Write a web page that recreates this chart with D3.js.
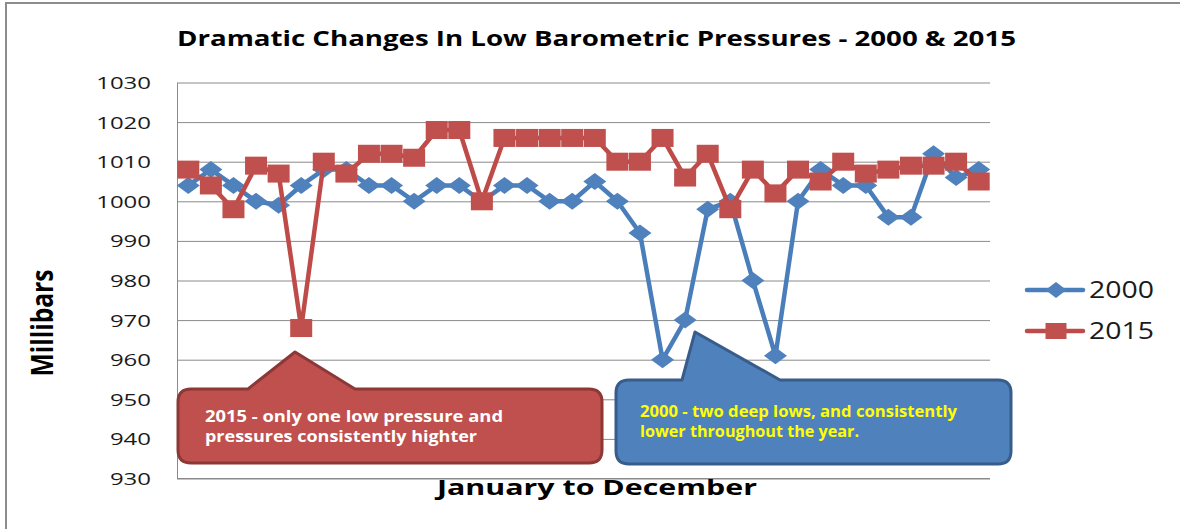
<!DOCTYPE html>
<html>
<head>
<meta charset="utf-8">
<script src="https://cdn.jsdelivr.net/npm/d3@7"></script>
<style>
  html, body { margin: 0; padding: 0; background: #fff; }
  svg { display: block; }
  text { font-family: "Open Sans", "DejaVu Sans", sans-serif; }
</style>
</head>
<body>
<div id="chart"></div>
<script>
// ---- data ----
const periods = [
  "Jan 1","Jan 2","Jan 3","Feb 1","Feb 2","Feb 3","Mar 1","Mar 2","Mar 3",
  "Apr 1","Apr 2","Apr 3","May 1","May 2","May 3","Jun 1","Jun 2","Jun 3",
  "Jul 1","Jul 2","Jul 3","Aug 1","Aug 2","Aug 3","Sep 1","Sep 2","Sep 3",
  "Oct 1","Oct 2","Oct 3","Nov 1","Nov 2","Nov 3","Dec 1","Dec 2","Dec 3"
];
const pressure2000 = [
  1004,1008,1004,1000,999,1004,1008,1008,1004,
  1004,1000,1004,1004,1000,1004,1004,1000,1000,
  1005,1000,992,960,970,998,1000,980,961,
  1000,1008,1004,1004,996,996,1012,1006,1008
];
const pressure2015 = [
  1008,1004,998,1009,1007,968,1010,1007,1012,
  1012,1011,1018,1018,1000,1016,1016,1016,1016,
  1016,1010,1010,1016,1006,1012,998,1008,1002,
  1008,1005,1010,1007,1008,1009,1009,1010,1005
];
const seriesNames = ["2000", "2015"];
const yTicks = [930, 940, 950, 960, 970, 980, 990, 1000, 1010, 1020, 1030];
const titleText = "Dramatic Changes In Low Barometric Pressures - 2000 & 2015";
const xTitle = "January to December";
const yTitle = "Millibars";
const note2015 = ["2015 - only one low pressure and", "pressures consistently highter"];
const note2000 = ["2000 - two deep lows, and consistently", "lower throughout the year."];

// ---- layout / style ----
const W = 1180, H = 529;
const plot = { left: 177, right: 990, top: 82.5, bottom: 478.5 };
const colors = {
  line2000: "#4A7EBB", fill2000: "#4F81BD",
  line2015: "#BE4B48", fill2015: "#C0504D",
  grid: "#8A8A8A"
};

const svg = d3.select("#chart").append("svg")
  .attr("width", W).attr("height", H);

// outer chart frame (left and top edges visible)
svg.append("path")
  .attr("d", `M6,${H} V3 H${W}`)
  .attr("fill", "none").attr("stroke", "#8C8C8C").attr("stroke-width", 2);

const x = d3.scalePoint().domain(periods).range([plot.left, plot.right]).padding(0.5);
const y = d3.scaleLinear().domain([930, 1030]).range([plot.bottom, plot.top]);

// y axis with gridlines
const yAxis = d3.axisLeft(y).tickValues(yTicks).tickFormat(d3.format("d"))
  .tickSize(-(plot.right - plot.left)).tickSizeOuter(0).tickPadding(26);
const gy = svg.append("g").attr("transform", `translate(${plot.left},0)`).call(yAxis);
gy.select(".domain").attr("stroke", colors.grid).attr("stroke-width", 1);
gy.selectAll(".tick line").attr("stroke", colors.grid).attr("stroke-width", 1);
gy.selectAll(".tick text")
  .attr("dy", "6")
  .attr("fill", "#1a1a1a")
  .style("font-size", "17px")
  .attr("lengthAdjust", "spacingAndGlyphs")
  .attr("textLength", d => String(d).length * 13.7);

// bottom axis line
svg.append("line")
  .attr("x1", plot.left).attr("x2", plot.right)
  .attr("y1", y(930)).attr("y2", y(930))
  .attr("stroke", colors.grid).attr("stroke-width", 1);

// markers
function diamond(sel, w, h) {
  return sel.attr("d", `M0,${-h/2} L${w/2},0 L0,${h/2} L${-w/2},0 Z`);
}

const line = d3.line().x((d, i) => x(periods[i])).y(d => y(d));

// series 2000
const g2000 = svg.append("g");
g2000.append("path").datum(pressure2000)
  .attr("d", line).attr("fill", "none")
  .attr("stroke", colors.line2000).attr("stroke-width", 4.5)
  .attr("stroke-linejoin", "round");
g2000.selectAll("path.m").data(pressure2000).join("path").attr("class", "m")
  .call(diamond, 23, 17)
  .attr("transform", (d, i) => `translate(${x(periods[i])},${y(d)})`)
  .attr("fill", colors.fill2000);

// series 2015
const g2015 = svg.append("g");
g2015.append("path").datum(pressure2015)
  .attr("d", line).attr("fill", "none")
  .attr("stroke", colors.line2015).attr("stroke-width", 4.5)
  .attr("stroke-linejoin", "round");
g2015.selectAll("rect.m").data(pressure2015).join("rect").attr("class", "m")
  .attr("x", (d, i) => x(periods[i]) - 11).attr("y", d => y(d) - 9)
  .attr("width", 22).attr("height", 18)
  .attr("fill", colors.fill2015);

// title
svg.append("text").attr("x", 177).attr("y", 46)
  .text(titleText)
  .style("font-size", "22px").style("font-weight", "bold").attr("fill", "#000")
  .attr("lengthAdjust", "spacingAndGlyphs").attr("textLength", 839);

// x axis title
svg.append("text").attr("x", 437).attr("y", 495)
  .text(xTitle)
  .style("font-size", "22px").style("font-weight", "bold").attr("fill", "#000")
  .attr("lengthAdjust", "spacingAndGlyphs").attr("textLength", 320);

// y axis title (rotated, widened like the reference)
svg.append("text")
  .attr("transform", "translate(53,323) scale(1.3,1) rotate(-90)")
  .attr("text-anchor", "middle")
  .text(yTitle)
  .style("font-size", "23px").style("font-weight", "bold").attr("fill", "#000")
  .attr("lengthAdjust", "spacingAndGlyphs").attr("textLength", 107);

// legend
const legend = svg.append("g");
const legY = [290, 331];
seriesNames.forEach((name, i) => {
  const gy0 = legY[i];
  const lc = i === 0 ? colors.line2000 : colors.line2015;
  const fc = i === 0 ? colors.fill2000 : colors.fill2015;
  legend.append("line").attr("x1", 1027).attr("x2", 1083)
    .attr("y1", gy0).attr("y2", gy0)
    .attr("stroke", lc).attr("stroke-width", 4.5).attr("stroke-linecap", "round");
  if (i === 0) {
    legend.append("path").call(diamond, 21, 16)
      .attr("transform", `translate(1056,${gy0})`).attr("fill", fc);
  } else {
    legend.append("rect").attr("x", 1056 - 10.5).attr("y", gy0 - 8)
      .attr("width", 21).attr("height", 16).attr("fill", fc);
  }
  legend.append("text").attr("x", 1089).attr("y", gy0 + 8)
    .text(name).style("font-size", "23px").attr("fill", "#1a1a1a")
    .attr("lengthAdjust", "spacingAndGlyphs").attr("textLength", 65);
});

// callouts
function calloutPath(c) {
  const r = c.r;
  return `M${c.x0 + r},${c.y0} L${c.bx0},${c.y0} L${c.ax},${c.ay} L${c.bx1},${c.y0} ` +
    `L${c.x1 - r},${c.y0} Q${c.x1},${c.y0} ${c.x1},${c.y0 + r} ` +
    `L${c.x1},${c.y1 - r} Q${c.x1},${c.y1} ${c.x1 - r},${c.y1} ` +
    `L${c.x0 + r},${c.y1} Q${c.x0},${c.y1} ${c.x0},${c.y1 - r} ` +
    `L${c.x0},${c.y0 + r} Q${c.x0},${c.y0} ${c.x0 + r},${c.y0} Z`;
}
const callouts = [
  { x0: 178, y0: 389, x1: 602, y1: 463, r: 13, bx0: 248, bx1: 355, ax: 295, ay: 352,
    fill: "#C0504D", stroke: "#8C3836", textColor: "#FFFFFF",
    lines: note2015, tx: 205, ty: [422, 442], tl: [298, 272] },
  { x0: 616, y0: 380, x1: 1011, y1: 464, r: 13, bx0: 682, bx1: 780, ax: 695, ay: 332,
    fill: "#4F81BD", stroke: "#385D8A", textColor: "#FFFF00",
    lines: note2000, tx: 640, ty: [417, 437], tl: [317, 219] }
];
callouts.forEach(c => {
  const g = svg.append("g");
  g.append("path").attr("d", calloutPath(c))
    .attr("fill", c.fill).attr("stroke", c.stroke).attr("stroke-width", 3)
    .attr("stroke-linejoin", "round");
  c.lines.forEach((t, i) => {
    g.append("text").attr("x", c.tx).attr("y", c.ty[i]).text(t)
      .style("font-size", "16px").style("font-weight", "bold").attr("fill", c.textColor)
      .attr("lengthAdjust", "spacingAndGlyphs").attr("textLength", c.tl[i]);
  });
});
</script>
</body>
</html>
